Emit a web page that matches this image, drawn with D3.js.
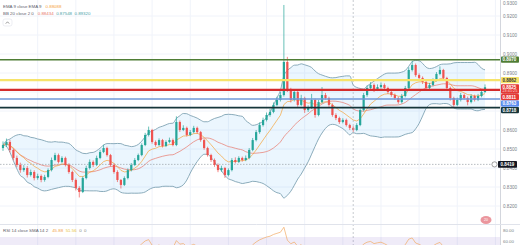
<!DOCTYPE html>
<html><head><meta charset="utf-8">
<script src="https://cdn.jsdelivr.net/npm/d3@7"></script>
<style>html,body{margin:0;padding:0;background:#fff;overflow:hidden}svg{display:block;font-family:"Liberation Sans",Arial,sans-serif}</style>
</head><body><svg id="c" width="520" height="245"></svg>
<script>
// ---- data ----
const opens = [0.8505,0.8521,0.8537,0.8495,0.8453,0.8416,0.8389,0.8400,0.8363,0.8379,
0.8347,0.8358,0.8337,0.8353,0.8389,0.8442,0.8468,0.8432,0.8453,0.8416,
0.8379,0.8337,0.8295,0.8274,0.8347,0.8400,0.8432,0.8416,0.8453,0.8484,
0.8505,0.8468,0.8416,0.8379,0.8337,0.8311,0.8347,0.8389,0.8416,0.8442,
0.8468,0.8521,0.8574,0.8600,0.8537,0.8521,0.8547,0.8516,0.8537,0.8547,
0.8521,0.8642,0.8600,0.8611,0.8574,0.8589,0.8611,0.8589,0.8547,0.8505,
0.8468,0.8442,0.8416,0.8389,0.8400,0.8363,0.8389,0.8442,0.8432,0.8453,
0.8442,0.8453,0.8495,0.8547,0.8589,0.8626,0.8653,0.8679,0.8695,0.8732,
0.8758,0.8784,0.8958,0.8811,0.8758,0.8800,0.8732,0.8768,0.8705,0.8716,
0.8758,0.8679,0.8747,0.8784,0.8768,0.8732,0.8679,0.8663,0.8642,0.8653,
0.8626,0.8611,0.8600,0.8626,0.8705,0.8784,0.8821,0.8837,0.8811,0.8826,
0.8837,0.8821,0.8800,0.8784,0.8768,0.8747,0.8779,0.8821,0.8916,0.8942,
0.8889,0.8874,0.8853,0.8821,0.8837,0.8863,0.8895,0.8916,0.8874,0.8821,
0.8768,0.8732,0.8758,0.8784,0.8768,0.8747,0.8779,0.8758,0.8779,0.8800];
const closes = [0.8521,0.8537,0.8495,0.8453,0.8416,0.8389,0.8400,0.8363,0.8379,0.8347,
0.8358,0.8337,0.8353,0.8389,0.8442,0.8468,0.8432,0.8453,0.8416,0.8379,
0.8337,0.8295,0.8274,0.8347,0.8400,0.8432,0.8416,0.8453,0.8484,0.8505,
0.8468,0.8416,0.8379,0.8337,0.8311,0.8347,0.8389,0.8416,0.8442,0.8468,
0.8521,0.8574,0.8600,0.8537,0.8521,0.8547,0.8516,0.8537,0.8547,0.8521,
0.8642,0.8600,0.8611,0.8574,0.8589,0.8611,0.8589,0.8547,0.8505,0.8468,
0.8442,0.8416,0.8389,0.8400,0.8363,0.8389,0.8442,0.8432,0.8453,0.8442,
0.8453,0.8495,0.8547,0.8589,0.8626,0.8653,0.8679,0.8695,0.8732,0.8758,
0.8784,0.8958,0.8811,0.8758,0.8800,0.8732,0.8768,0.8705,0.8716,0.8758,
0.8679,0.8747,0.8784,0.8768,0.8732,0.8679,0.8663,0.8642,0.8653,0.8626,
0.8611,0.8600,0.8626,0.8705,0.8784,0.8821,0.8837,0.8811,0.8826,0.8837,
0.8821,0.8800,0.8784,0.8768,0.8747,0.8779,0.8821,0.8916,0.8942,0.8889,
0.8874,0.8853,0.8821,0.8837,0.8863,0.8895,0.8916,0.8874,0.8821,0.8768,
0.8732,0.8758,0.8784,0.8768,0.8747,0.8779,0.8758,0.8779,0.8800,0.8825];
const highs = [0.8540,0.8555,0.8548,0.8502,0.8465,0.8428,0.8415,0.8410,0.8392,0.8388,
0.8370,0.8366,0.8364,0.8398,0.8455,0.8480,0.8476,0.8462,0.8460,0.8425,
0.8386,0.8345,0.8304,0.8356,0.8412,0.8445,0.8440,0.8465,0.8495,0.8522,
0.8512,0.8474,0.8424,0.8388,0.8342,0.8356,0.8398,0.8426,0.8452,0.8476,
0.8530,0.8585,0.8618,0.8606,0.8545,0.8556,0.8553,0.8546,0.8560,0.8555,
0.8672,0.8650,0.8625,0.8618,0.8600,0.8622,0.8618,0.8595,0.8553,0.8512,
0.8475,0.8450,0.8424,0.8412,0.8406,0.8398,0.8452,0.8456,0.8462,0.8460,
0.8466,0.8505,0.8558,0.8600,0.8640,0.8665,0.8692,0.8712,0.8745,0.8775,
0.8800,0.9258,0.8985,0.8822,0.8815,0.8808,0.8785,0.8775,0.8730,0.8790,
0.8765,0.8758,0.8826,0.8795,0.8775,0.8740,0.8688,0.8670,0.8662,0.8660,
0.8633,0.8620,0.8636,0.8712,0.8795,0.8835,0.8852,0.8845,0.8840,0.8850,
0.8845,0.8828,0.8810,0.8792,0.8775,0.8790,0.8832,0.8930,0.8965,0.8950,
0.8898,0.8882,0.8860,0.8848,0.8872,0.8905,0.8935,0.8922,0.8880,0.8828,
0.8775,0.8770,0.8795,0.8792,0.8776,0.8788,0.8786,0.8790,0.8812,0.8840];
const lows = [0.8490,0.8510,0.8482,0.8440,0.8405,0.8375,0.8380,0.8350,0.8355,0.8335,
0.8338,0.8325,0.8328,0.8346,0.8382,0.8436,0.8424,0.8425,0.8408,0.8370,
0.8326,0.8282,0.8245,0.8268,0.8340,0.8392,0.8405,0.8410,0.8446,0.8478,
0.8460,0.8408,0.8370,0.8326,0.8292,0.8305,0.8340,0.8382,0.8410,0.8436,
0.8462,0.8515,0.8566,0.8528,0.8512,0.8515,0.8508,0.8510,0.8530,0.8514,
0.8515,0.8590,0.8594,0.8566,0.8568,0.8583,0.8580,0.8538,0.8496,0.8460,
0.8432,0.8406,0.8378,0.8380,0.8348,0.8356,0.8382,0.8424,0.8426,0.8434,
0.8436,0.8446,0.8488,0.8540,0.8580,0.8618,0.8645,0.8670,0.8688,0.8725,
0.8750,0.8776,0.8800,0.8745,0.8750,0.8722,0.8725,0.8690,0.8695,0.8710,
0.8665,0.8672,0.8740,0.8760,0.8722,0.8670,0.8652,0.8632,0.8635,0.8618,
0.8600,0.8590,0.8594,0.8620,0.8698,0.8775,0.8812,0.8800,0.8805,0.8818,
0.8812,0.8790,0.8775,0.8758,0.8738,0.8740,0.8772,0.8815,0.8908,0.8880,
0.8865,0.8842,0.8812,0.8814,0.8830,0.8856,0.8888,0.8866,0.8812,0.8755,
0.8718,0.8725,0.8750,0.8760,0.8730,0.8740,0.8750,0.8752,0.8772,0.8795];
const priceTicks = [0.93,0.92,0.91,0.90,0.89,0.88,0.87,0.86,0.85,0.84,0.83,0.82];
const levelValues = [0.8970, 0.8862, 0.8811, 0.8763, 0.8718];
const levelNames  = ["green","yellow","red","blue","dark"];
const lastPrice = 0.8825;
const lastCountdown = "23:41:25";
const markerPrice = 0.8419;
const rsiTicks = [80, 60];
const legend1 = {title:"EMA 9 close EMA 9", values:["0.88088"]};
const legend2 = {title:"BB 20 close 2 0", values:["0.88434","0.87548","0.89320"]};
const legend3 = {title:"RSI 14 close SMA 14 2", values:["45.88","51.56","0","0"]};

// ---- styles ----
const levelStyle = {
  green:{stroke:"#4f7d35",w:1.6,box:"#4f7d35",text:"#fff"},
  yellow:{stroke:"#f6e36a",w:2.2,box:"#f6e36a",text:"#333"},
  red:{stroke:"#d42b2b",w:2.2,box:"#e53935",text:"#fff"},
  blue:{stroke:"#6f98d8",w:1.6,box:"#5b8def",text:"#fff"},
  dark:{stroke:"#16363a",w:1.6,box:"#17363a",text:"#fff"}
};
const UP="#26a69a", DOWN="#ef5350";

const svg = d3.select("#c");
const W=520, H=245, plotR=500, paneBottom=224;
const n = closes.length;
const x = d3.scaleLinear().domain([0,n-1]).range([3,485]);
const y = d3.scaleLinear().domain([0.82,0.93]).range([206,-3]);
const yR = d3.scaleLinear().domain([60,80]).range([244,230]);

svg.append("defs").append("clipPath").attr("id","mainClip")
  .append("rect").attr("x",0).attr("y",0).attr("width",plotR).attr("height",paneBottom);
svg.select("defs").append("clipPath").attr("id","rsiClip")
  .append("rect").attr("x",0).attr("y",paneBottom+1).attr("width",plotR).attr("height",H-paneBottom);

// grid
const grid = svg.append("g");
grid.selectAll("line.h").data(priceTicks).join("line")
  .attr("x1",0).attr("x2",plotR).attr("y1",d=>y(d)).attr("y2",d=>y(d))
  .attr("stroke","#f0f3fa").attr("stroke-width",1);
const vIdx = d3.range(10,n+5,11);
grid.selectAll("line.v").data(vIdx).join("line")
  .attr("x1",d=>x(d)).attr("x2",d=>x(d)).attr("y1",0).attr("y2",H)
  .attr("stroke","#f0f3fa").attr("stroke-width",1);

// indicators derived from closes
const bb = closes.map((c,i)=>{
  const w = closes.slice(Math.max(0,i-19), i+1);
  const m = d3.mean(w), s = Math.sqrt(d3.mean(w.map(v=>(v-m)*(v-m))));
  return {i, m, u:m+2*s, l:m-2*s};
});
const ema=[]; const k=2/10;
closes.forEach((c,i)=>ema.push(i===0?c:c*k+ema[i-1]*(1-k)));

const main = svg.append("g").attr("clip-path","url(#mainClip)");
main.append("path").datum(bb)
  .attr("d", d3.area().x(d=>x(d.i)).y0(d=>y(d.l)).y1(d=>y(d.u)).curve(d3.curveMonotoneX))
  .attr("fill","rgba(33,150,243,0.09)");
main.append("path").datum(bb).attr("fill","none").attr("stroke","#7fa3b3").attr("stroke-width",0.9)
  .attr("d", d3.line().x(d=>x(d.i)).y(d=>y(d.u)).curve(d3.curveMonotoneX));
main.append("path").datum(bb).attr("fill","none").attr("stroke","#7fa3b3").attr("stroke-width",0.9)
  .attr("d", d3.line().x(d=>x(d.i)).y(d=>y(d.l)).curve(d3.curveMonotoneX));
main.append("path").datum(bb).attr("fill","none").attr("stroke","#e8776a").attr("stroke-width",0.7)
  .attr("d", d3.line().x(d=>x(d.i)).y(d=>y(d.m)).curve(d3.curveMonotoneX));
main.append("path").datum(ema).attr("fill","none").attr("stroke","#f5a43a").attr("stroke-width",0.7)
  .attr("d", d3.line().x((d,i)=>x(i)).y(d=>y(d)));

// marker dashed line & session separator
main.append("line").attr("x1",0).attr("x2",plotR).attr("y1",y(markerPrice)).attr("y2",y(markerPrice))
  .attr("stroke","#9aa0a8").attr("stroke-width",0.7).attr("stroke-dasharray","1.5,1.5");
svg.append("line").attr("x1",x(101)).attr("x2",x(101)).attr("y1",0).attr("y2",H)
  .attr("stroke","#b0b4bc").attr("stroke-width",0.7).attr("stroke-dasharray","2,2");

// candles
const cg = main.append("g");
const candles = closes.map((c,i)=>({i,o:opens[i],h:highs[i],l:lows[i],c}));
cg.selectAll("line").data(candles).join("line")
  .attr("x1",d=>x(d.i)).attr("x2",d=>x(d.i)).attr("y1",d=>y(d.h)).attr("y2",d=>y(d.l))
  .attr("stroke",d=>d.c>=d.o?UP:DOWN).attr("stroke-width",0.7);
cg.selectAll("rect").data(candles).join("rect")
  .attr("x",d=>x(d.i)-1.1).attr("width",2.2)
  .attr("y",d=>y(Math.max(d.o,d.c))).attr("height",d=>Math.max(0.7,Math.abs(y(d.o)-y(d.c))))
  .attr("fill",d=>d.c>=d.o?UP:DOWN);

// horizontal levels
levelValues.forEach((v,j)=>{
  const st=levelStyle[levelNames[j]];
  svg.append("line").attr("x1",0).attr("x2",plotR).attr("y1",y(v)).attr("y2",y(v))
    .attr("stroke",st.stroke).attr("stroke-width",st.w);
});

// price scale
svg.append("rect").attr("x",plotR).attr("y",0).attr("width",W-plotR).attr("height",H).attr("fill","#fff");
svg.append("line").attr("x1",plotR+0.5).attr("x2",plotR+0.5).attr("y1",0).attr("y2",H).attr("stroke","#c8ccd4").attr("stroke-width",0.8);
svg.append("g").selectAll("text").data(priceTicks).join("text")
  .attr("x",503).attr("y",d=>Math.max(3,y(d))).attr("dy","0.35em")
  .attr("font-size",4.6).attr("fill","#7a7f88").text(d=>d.toFixed(4));

// label boxes (stacked to avoid overlap)
const boxes = [];
levelValues.forEach((v,j)=>boxes.push({v,name:levelNames[j],lines:[v.toFixed(4)]}));
boxes.push({v:lastPrice,name:"red",lines:[lastPrice.toFixed(4),lastCountdown],current:true});
boxes.sort((a,b)=>b.v-a.v);
let prevBottom=-99;
boxes.forEach(b=>{
  const h = b.lines.length>1?9.5:6.2;
  let top = y(b.v)-3.1;
  if(top<prevBottom) top=prevBottom;
  b.top=top; b.h=h; prevBottom=top+h+0.3;
});
const bg = svg.append("g");
boxes.forEach(b=>{
  const st=levelStyle[b.name];
  bg.append("rect").attr("x",plotR+1).attr("y",b.top).attr("width",18).attr("height",b.h)
    .attr("rx",0.8).attr("fill",st.box);
  b.lines.forEach((t,li)=>bg.append("text").attr("x",plotR+2.5).attr("y",b.top+3.1+li*3.8).attr("dy","0.35em")
    .attr("font-size",li?3.8:4.5).attr("font-weight",li?"normal":"bold").attr("fill",st.text).attr("fill-opacity",li?0.85:1).text(t));
});
// marker label
bg.append("rect").attr("x",plotR-2).attr("y",y(markerPrice)-3.3).attr("width",19).attr("height",6.6).attr("rx",0.8).attr("fill","#131722");
bg.append("text").attr("x",plotR+0.5).attr("y",y(markerPrice)).attr("dy","0.35em").attr("font-size",4.5).attr("font-weight","bold").attr("fill","#fff").text(markerPrice.toFixed(4));
bg.append("circle").attr("cx",plotR-5.5).attr("cy",y(markerPrice)).attr("r",2.6).attr("fill","#fff").attr("stroke","#444").attr("stroke-width",0.5);
// small alert bubble
svg.append("ellipse").attr("cx",486).attr("cy",220).attr("rx",5.5).attr("ry",4).attr("fill","#e8848c").attr("opacity",0.85);
svg.append("text").attr("x",486).attr("y",220).attr("dy","0.35em").attr("text-anchor","middle").attr("font-size",3.5).attr("fill","#fff").text("20");

// RSI pane
svg.append("line").attr("x1",0).attr("x2",W).attr("y1",paneBottom+0.5).attr("y2",paneBottom+0.5).attr("stroke","#e0e3eb").attr("stroke-width",1);
const rsiG = svg.append("g").attr("clip-path","url(#rsiClip)");
rsiG.append("rect").attr("x",0).attr("width",plotR).attr("y",yR(70)).attr("height",yR(30)-yR(70)).attr("fill","rgba(126,87,194,0.12)");
const rsi=[]; let ag=0, al=0;
for(let i=1;i<n;i++){
  const ch=closes[i]-closes[i-1], g=Math.max(ch,0), l=Math.max(-ch,0);
  if(i<=14){ag+=g/14; al+=l/14; if(i===14) rsi.push({i, v:100-100/(1+ag/(al||1e-9))});}
  else {ag=(ag*13+g)/14; al=(al*13+l)/14; rsi.push({i, v:100-100/(1+ag/(al||1e-9))});}
}
rsiG.append("path").datum(rsi).attr("fill","none").attr("stroke","#f2ab63").attr("stroke-width",0.7)
  .attr("d", d3.line().x(d=>x(d.i)).y(d=>yR(d.v)));
svg.append("g").selectAll("text").data(rsiTicks).join("text")
  .attr("x",503).attr("y",d=>Math.min(241.5,yR(d))).attr("dy","0.35em").attr("font-size",4.4).attr("fill","#7a7f88").text(d=>d.toFixed(2));

// legends
function legend(cfg, yy, colors){
  const t = svg.append("text").attr("x",3).attr("y",yy).attr("font-size",4.4).attr("fill","#5d616b");
  t.append("tspan").text(cfg.title);
  cfg.values.forEach((v,j)=>t.append("tspan").attr("dx",j?2.5:4).attr("fill",colors[j]).text(v));
}
legend(legend1, 7.5, ["#f5a43a"]);
legend(legend2, 15, ["#e8776a","#4a9fa8","#4a9fa8"]);
legend(legend3, 232, ["#f2a24a","#e8c23a","#888","#888"]);
svg.append("rect").attr("x",3).attr("y",19).attr("width",9).attr("height",7).attr("rx",2).attr("fill","#fff").attr("stroke","#e0e3eb").attr("stroke-width",0.6);
svg.append("path").attr("d","M5.8,23.6 L7.5,21.8 L9.2,23.6").attr("fill","none").attr("stroke","#555").attr("stroke-width",0.6);
</script></body></html>
